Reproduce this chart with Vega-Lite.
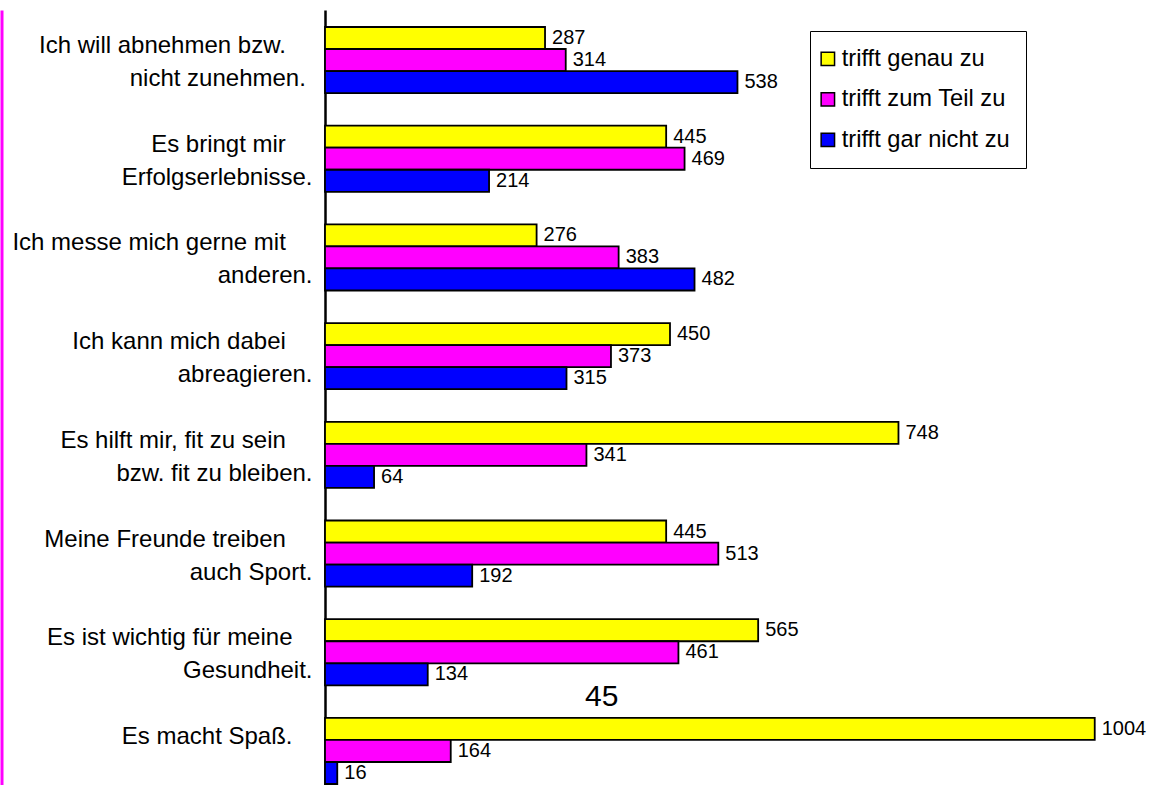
{
  "$schema": "https://vega.github.io/schema/vega-lite/v6.json",
  "width": 828,
  "height": 791,
  "autosize": {"type": "none"},
  "padding": {"left": 325, "top": 10, "right": 0, "bottom": 0},
  "background": "white",
  "config": {"view": {"stroke": null}, "font": "Liberation Sans"},
  "datasets": {
    "motives": [
      {"reason": "Ich will abnehmen bzw.\u00a0\u00a0\u00a0\u00a0\u200b|nicht zunehmen.\u00a0\u200b", "series": "trifft genau zu", "value": 287},
      {"reason": "Ich will abnehmen bzw.\u00a0\u00a0\u00a0\u00a0\u200b|nicht zunehmen.\u00a0\u200b", "series": "trifft zum Teil zu", "value": 314},
      {"reason": "Ich will abnehmen bzw.\u00a0\u00a0\u00a0\u00a0\u200b|nicht zunehmen.\u00a0\u200b", "series": "trifft gar nicht zu", "value": 538},
      {"reason": "Es bringt mir\u00a0\u00a0\u00a0\u00a0\u200b|Erfolgserlebnisse.", "series": "trifft genau zu", "value": 445},
      {"reason": "Es bringt mir\u00a0\u00a0\u00a0\u00a0\u200b|Erfolgserlebnisse.", "series": "trifft zum Teil zu", "value": 469},
      {"reason": "Es bringt mir\u00a0\u00a0\u00a0\u00a0\u200b|Erfolgserlebnisse.", "series": "trifft gar nicht zu", "value": 214},
      {"reason": "Ich messe mich gerne mit\u00a0\u00a0\u00a0\u00a0\u200b|anderen.", "series": "trifft genau zu", "value": 276},
      {"reason": "Ich messe mich gerne mit\u00a0\u00a0\u00a0\u00a0\u200b|anderen.", "series": "trifft zum Teil zu", "value": 383},
      {"reason": "Ich messe mich gerne mit\u00a0\u00a0\u00a0\u00a0\u200b|anderen.", "series": "trifft gar nicht zu", "value": 482},
      {"reason": "Ich kann mich dabei\u00a0\u00a0\u00a0\u00a0\u200b|abreagieren.", "series": "trifft genau zu", "value": 450},
      {"reason": "Ich kann mich dabei\u00a0\u00a0\u00a0\u00a0\u200b|abreagieren.", "series": "trifft zum Teil zu", "value": 373},
      {"reason": "Ich kann mich dabei\u00a0\u00a0\u00a0\u00a0\u200b|abreagieren.", "series": "trifft gar nicht zu", "value": 315},
      {"reason": "Es hilft mir, fit zu sein\u00a0\u00a0\u00a0\u00a0\u200b|bzw. fit zu bleiben.", "series": "trifft genau zu", "value": 748},
      {"reason": "Es hilft mir, fit zu sein\u00a0\u00a0\u00a0\u00a0\u200b|bzw. fit zu bleiben.", "series": "trifft zum Teil zu", "value": 341},
      {"reason": "Es hilft mir, fit zu sein\u00a0\u00a0\u00a0\u00a0\u200b|bzw. fit zu bleiben.", "series": "trifft gar nicht zu", "value": 64},
      {"reason": "Meine Freunde treiben\u00a0\u00a0\u00a0\u00a0\u200b|auch Sport.", "series": "trifft genau zu", "value": 445},
      {"reason": "Meine Freunde treiben\u00a0\u00a0\u00a0\u00a0\u200b|auch Sport.", "series": "trifft zum Teil zu", "value": 513},
      {"reason": "Meine Freunde treiben\u00a0\u00a0\u00a0\u00a0\u200b|auch Sport.", "series": "trifft gar nicht zu", "value": 192},
      {"reason": "Es ist wichtig für meine\u00a0\u00a0\u00a0\u200b|Gesundheit.", "series": "trifft genau zu", "value": 565},
      {"reason": "Es ist wichtig für meine\u00a0\u00a0\u00a0\u200b|Gesundheit.", "series": "trifft zum Teil zu", "value": 461},
      {"reason": "Es ist wichtig für meine\u00a0\u00a0\u00a0\u200b|Gesundheit.", "series": "trifft gar nicht zu", "value": 134},
      {"reason": "Es macht Spaß.\u00a0\u00a0\u00a0\u200b", "series": "trifft genau zu", "value": 1004},
      {"reason": "Es macht Spaß.\u00a0\u00a0\u00a0\u200b", "series": "trifft zum Teil zu", "value": 164},
      {"reason": "Es macht Spaß.\u00a0\u00a0\u00a0\u200b", "series": "trifft gar nicht zu", "value": 16}
    ],
    "pagenote": [
      {"reason": "Es ist wichtig für meine\u00a0\u00a0\u00a0\u200b|Gesundheit.", "value": 361, "label": "45"}
    ]
  },
  "resolve": {"axis": {"y": "independent"}},
  "layer": [
    {
      "data": {"name": "motives"},
      "mark": {"type": "bar", "stroke": "black", "strokeWidth": 1.8},
      "encoding": {
        "y": {
          "field": "reason", "type": "nominal", "sort": null,
          "scale": {"paddingInner": 0.33, "paddingOuter": 0.172},
          "axis": {
            "title": null, "ticks": false, "domainColor": "black", "domainWidth": 2.5,
            "labelFontSize": 24, "labelColor": "black", "labelPadding": 13,
            "labelExpr": "split(datum.label, '|')", "labelLineHeight": 33,
            "labelOffset": -14,
            "labelLimit": 0, "labelAlign": "right", "labelBaseline": "middle"
          }
        },
        "yOffset": {
          "field": "series", "type": "nominal",
          "sort": ["trifft genau zu", "trifft zum Teil zu", "trifft gar nicht zu"],
          "scale": {"paddingInner": 0, "paddingOuter": 0}
        },
        "x": {
          "field": "value", "type": "quantitative",
          "scale": {"domain": [0, 1080], "nice": false, "zero": true},
          "axis": null
        },
        "color": {
          "field": "series", "type": "nominal",
          "sort": ["trifft genau zu", "trifft zum Teil zu", "trifft gar nicht zu"],
          "scale": {
            "domain": ["trifft genau zu", "trifft zum Teil zu", "trifft gar nicht zu"],
            "range": ["#ffff00", "#ff00ff", "#0000ff"]
          },
          "legend": {
            "title": null, "orient": "none", "legendX": 485, "legendY": 21,
            "direction": "vertical", "fillColor": "white", "strokeColor": "black",
            "padding": 16, "labelFontSize": 23.7, "labelColor": "black",
            "labelFont": "Liberation Sans", "symbolType": "square", "symbolSize": 180,
            "symbolStrokeColor": "black", "symbolStrokeWidth": 1.5, "symbolOpacity": 1,
            "symbolOffset": -10,
            "rowPadding": 15.5, "labelOffset": 2, "labelLimit": 0
          }
        }
      }
    },
    {
      "data": {"name": "motives"},
      "mark": {"type": "text", "align": "left", "baseline": "middle", "dx": 7, "fontSize": 20, "color": "black"},
      "encoding": {
        "y": {
          "field": "reason", "type": "nominal", "sort": null,
          "axis": {
            "title": null, "orient": "left", "offset": 323.5, "labels": false, "ticks": false,
            "domainColor": "#ff00ff", "domainWidth": 3
          }
        },
        "yOffset": {
          "field": "series", "type": "nominal",
          "sort": ["trifft genau zu", "trifft zum Teil zu", "trifft gar nicht zu"]
        },
        "x": {"field": "value", "type": "quantitative"},
        "text": {"field": "value", "type": "quantitative"}
      }
    },
    {
      "data": {"name": "pagenote"},
      "mark": {"type": "text", "align": "center", "baseline": "middle", "dy": 45, "fontSize": 30, "color": "black"},
      "encoding": {
        "y": {"field": "reason", "type": "nominal", "sort": null, "axis": null},
        "x": {"field": "value", "type": "quantitative"},
        "text": {"field": "label", "type": "nominal"}
      }
    }
  ]
}
